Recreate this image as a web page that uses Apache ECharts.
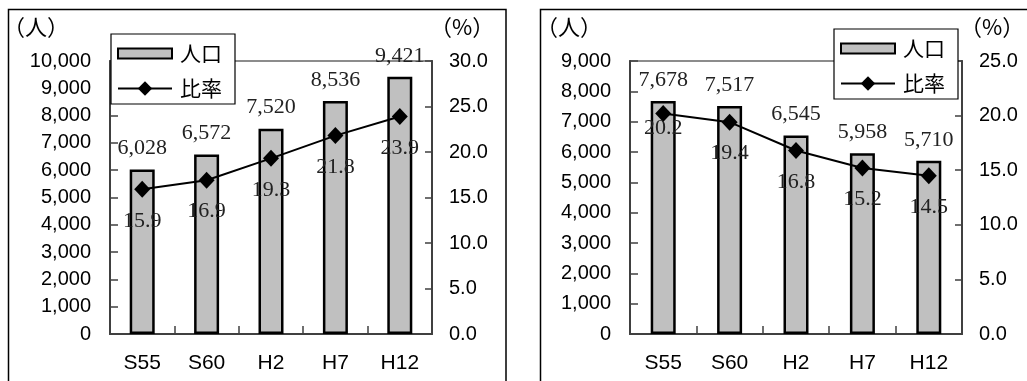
<!DOCTYPE html>
<html>
<head>
<meta charset="utf-8">
<script src="https://cdn.jsdelivr.net/npm/echarts@6/dist/echarts.min.js"></script>
<style>
  html, body { margin: 0; padding: 0; background: #fff; }
  #chart { width: 1027px; height: 381px; }
</style>
</head>
<body>
<div id="chart"></div>
<script>
// Census years
const categories = ['S55', 'S60', 'H2', 'H7', 'H12'];

// Left panel: population (persons) and ratio (%)
const popLeft = [6028, 6572, 7520, 8536, 9421];
const rateLeft = [15.9, 16.9, 19.3, 21.8, 23.9];

// Right panel: population (persons) and ratio (%)
const popRight = [7678, 7517, 6545, 5958, 5710];
const rateRight = [20.2, 19.4, 16.8, 15.2, 14.5];

// Axis ranges
const popAxisLeft = { max: 10000, interval: 1000 };
const popAxisRight = { max: 9000, interval: 1000 };
const rateAxisLeft = { max: 30, interval: 5 };
const rateAxisRight = { max: 25, interval: 5 };

const SANS = '"Liberation Sans", Arial, sans-serif';
const SERIF = '"Liberation Serif", "Times New Roman", serif';
const CJK = '"Noto Sans CJK JP", sans-serif';

const AXIS_DARK = '#404040';

function fmtPop(v) { return Number(v).toLocaleString('en-US'); }
function fmtRate(v) { return Number(v).toFixed(1); }

function grid(left, right) {
  return {
    left: left, right: right, top: 61, bottom: 47,
    show: true, borderColor: '#8c8c8c', borderWidth: 2,
    outerBoundsMode: 'none'
  };
}

function xAxis(gridIndex) {
  return {
    type: 'category', gridIndex: gridIndex, data: categories,
    boundaryGap: true,
    axisLine: { show: true, lineStyle: { color: AXIS_DARK, width: 2 } },
    axisTick: { show: true, inside: true, length: 8, lineStyle: { color: AXIS_DARK, width: 1.5 } },
    axisLabel: { color: '#000', fontFamily: SANS, fontSize: 21, margin: 19 },
    splitLine: { show: false }
  };
}

function popYAxis(gridIndex, range) {
  return {
    type: 'value', gridIndex: gridIndex, position: 'left',
    min: 0, max: range.max, interval: range.interval,
    axisLine: { show: true, lineStyle: { color: AXIS_DARK, width: 2 } },
    axisTick: { show: true, inside: true, length: 8, lineStyle: { color: AXIS_DARK, width: 1.5 } },
    axisLabel: { color: '#000', fontFamily: SANS, fontSize: 20, margin: 19, formatter: fmtPop },
    splitLine: { show: false }
  };
}

function rateYAxis(gridIndex, range) {
  return {
    type: 'value', gridIndex: gridIndex, position: 'right',
    min: 0, max: range.max, interval: range.interval,
    axisLine: { show: true, lineStyle: { color: AXIS_DARK, width: 2 } },
    axisTick: { show: true, inside: true, length: 7, lineStyle: { color: AXIS_DARK, width: 1.5 } },
    axisLabel: { color: '#000', fontFamily: SANS, fontSize: 20, margin: 17, formatter: fmtRate },
    splitLine: { show: false }
  };
}

function barSeries(axisIdx, values) {
  return {
    name: '人口', type: 'bar',
    xAxisIndex: axisIdx, yAxisIndex: axisIdx * 2,
    data: values, barWidth: 25,
    itemStyle: { color: '#c0c0c0', borderColor: '#000', borderWidth: 2.5 },
    label: {
      show: true, position: 'top', distance: 10,
      fontFamily: SERIF, fontSize: 22, color: '#222',
      formatter: function (p) { return fmtPop(p.value); }
    },
    z: 2
  };
}

// Per-point label nudges for the ratio line (index -> vertical offset in px)
function lineSeries(axisIdx, values, nudges) {
  const data = values.map(function (v, i) {
    if (nudges && nudges[i] !== undefined) {
      return { value: v, label: { offset: [0, nudges[i]] } };
    }
    return v;
  });
  return {
    name: '比率', type: 'line',
    xAxisIndex: axisIdx, yAxisIndex: axisIdx * 2 + 1,
    data: data,
    symbol: 'diamond', symbolSize: [16, 17],
    lineStyle: { color: '#000', width: 2 },
    itemStyle: { color: '#000' },
    label: {
      show: true, position: 'bottom', distance: 12,
      fontFamily: SERIF, fontSize: 22, color: '#222',
      formatter: function (p) { return fmtRate(p.value); }
    },
    z: 3
  };
}

const barIcon = 'path://M0,0 L54,0 L54,10 L0,10 Z';

function legend(left, top) {
  return {
    orient: 'vertical', left: left, top: top,
    backgroundColor: '#fff', borderColor: '#000', borderWidth: 1.2,
    padding: [9, 13, 5, 6],
    itemWidth: 54, itemHeight: 18, itemGap: 14,
    symbolKeepAspect: true,
    selectedMode: false,
    textStyle: { fontFamily: CJK, fontSize: 21, lineHeight: 18, color: '#000', padding: [0, 0, 0, 3] },
    data: [
      { name: '人口', icon: barIcon, itemStyle: { color: '#c0c0c0', borderColor: '#000', borderWidth: 2 } },
      { name: '比率' }
    ],
    z: 10
  };
}

// Unit captions above the axes
function unitText(x, text) {
  return {
    type: 'text', x: x, y: 27, z: 5,
    style: {
      text: text, fontSize: 22, fontFamily: 'Noto Sans CJK JP',
      fill: '#000', verticalAlign: 'middle', align: 'left'
    }
  };
}

const option = {
  animation: false,
  backgroundColor: '#fff',
  grid: [grid(110, 1027 - 432), grid(630, 1027 - 962)],
  xAxis: [xAxis(0), xAxis(1)],
  yAxis: [
    popYAxis(0, popAxisLeft), rateYAxis(0, rateAxisLeft),
    popYAxis(1, popAxisRight), rateYAxis(1, rateAxisRight)
  ],
  legend: [legend(111, 34), legend(834, 29)],
  series: [
    barSeries(0, popLeft), lineSeries(0, rateLeft),
    barSeries(1, popRight), lineSeries(1, rateRight, { 0: -17 })
  ],
  graphic: [
    // panel frames
    { type: 'rect', shape: { x: 8.5, y: 9.5, width: 497.5, height: 420 }, style: { fill: 'none', stroke: '#000', lineWidth: 1.5 }, z: 0 },
    { type: 'rect', shape: { x: 540.5, y: 9.5, width: 520, height: 420 }, style: { fill: 'none', stroke: '#000', lineWidth: 1.5 }, z: 0 },
    unitText(3, '（人）'),
    unitText(430, '（%）'),
    unitText(536, '（人）'),
    unitText(960, '（%）')
  ]
};

const chart = echarts.init(document.getElementById('chart'), null, { renderer: 'canvas' });
chart.setOption(option);
</script>
</body>
</html>
